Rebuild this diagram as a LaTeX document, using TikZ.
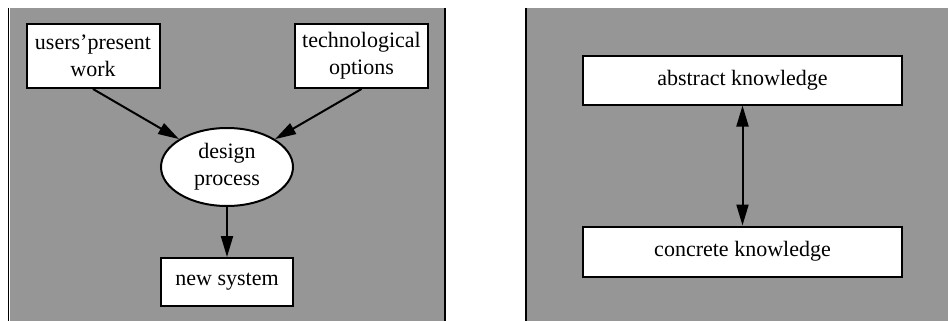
\documentclass[tikz,border=0pt]{standalone}
\usepackage{fontspec}
\setmainfont{Liberation Serif}
\usetikzlibrary{arrows.meta,shapes.geometric}

\definecolor{panelgray}{RGB}{150,150,150}

\begin{document}
\begin{tikzpicture}[x=1pt, y=-1pt,
	box/.style={draw, fill=white, line width=2pt, inner sep=0pt, align=center,
		font=\fontsize{22}{27}\selectfont},
	link/.style={line width=2pt, -{Triangle[length=21pt, width=12pt]}}]
	 \useasboundingbox (0,0) rectangle (948,321);
	 % the two grey panels
	 \fill[panelgray] (10,8) rectangle (445,321);
	 \fill[panelgray] (526,8) rectangle (948,321);
	 \draw[line width=1.5pt] (8.5,8) -- (8.5,321);
	 \draw[line width=2pt] (445,8) -- (445,321);
	 \draw[line width=2pt] (525.5,8) -- (525.5,321);
	 %
	 \node[box, minimum width=133pt, minimum height=64pt] (users) at (93,56) {users’present\\work};
	 \node[box, minimum width=133pt, minimum height=64pt] (techopts) at (361.5,56) {technological\\options};
	 \node[box, ellipse, minimum width=132pt, minimum height=78pt] (design) at (227,167) {design\\process};
	 \node[box, minimum width=132pt, minimum height=48pt] (newsys) at (227,282) {new system};
	 \draw[link] (users.south) -- (design);
	 \draw[link] (techopts.south) -- (design);
	 \draw[link] (design) -- (newsys);
	 %
	 \node[box, minimum width=319pt, minimum height=48pt] (abstract) at (742.5,80.5) {abstract knowledge};
	 \node[box, minimum width=319pt, minimum height=50pt] (concrete) at (742.5,251.5) {concrete knowledge};
	 \draw[link, {Triangle[length=21pt, width=12pt]}-{Triangle[length=21pt, width=12pt]}] (abstract) -- (concrete);
	\end{tikzpicture}
\end{document}
